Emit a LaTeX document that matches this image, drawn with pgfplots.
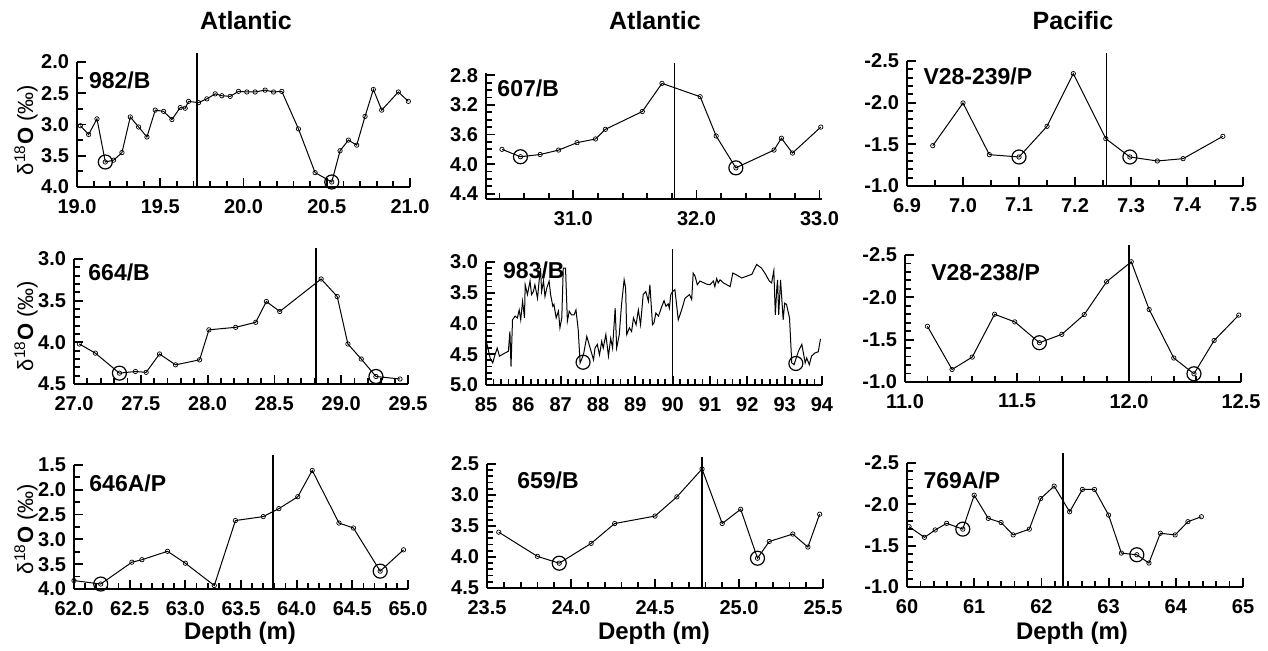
\documentclass[border=0pt]{standalone}
\usepackage{fontspec}
\setmainfont{Liberation Sans}
\usepackage{pgfplots}
\pgfplotsset{compat=1.18}

\pgfplotsset{
  panel/.style={
    scale only axis,
    y dir=reverse,
    axis x line*=bottom,
    axis y line*=left,
    axis line style={line width=0.8pt, -},
    tick align=inside,
    major tick length=4.5pt,
    minor tick length=2.8pt,
    tick style={line width=0.9pt, black},
    /pgf/number format/assume math mode=true,
    /pgf/number format/fixed,
    /pgf/number format/fixed zerofill,
    /pgf/number format/precision=1,
    every tick label/.append style={font=\bfseries\fontsize{10}{11}\selectfont},
    xticklabel style={yshift=-2.5pt},
    yticklabel style={xshift=-0.5pt},
    clip=false,
  },
  ser/.style={black, line width=0.5pt, mark=o, mark size=1.1pt, mark options={line width=0.35pt}},
  hl/.style={black, only marks, mark=o, mark size=3.5pt, mark options={line width=0.6pt}},
}
\tikzset{
  vl/.style={line width=0.8pt},
  tag/.style={anchor=west, inner sep=0pt, font=\bfseries\fontsize{11.5}{13}\selectfont},
}

\begin{document}
\begin{tikzpicture}
\useasboundingbox (0,0) rectangle (634pt,325.5pt);

% ---------- row 1 ----------
\begin{axis}[panel, at={(38.5pt,232pt)}, anchor=south west, width=166.5pt, height=62.5pt,
  xmin=19, xmax=21, ymin=2, ymax=4,
  xtick={19,19.5,...,21}, minor x tick num=4,
  ytick={2,2.5,...,4}, minor y tick num=1]
\addplot[ser] coordinates {
(19.02,3.02) (19.07,3.16) (19.12,2.91) (19.17,3.60) (19.22,3.57) (19.27,3.45)
(19.32,2.88) (19.37,3.04) (19.42,3.20) (19.47,2.77) (19.52,2.79) (19.57,2.92)
(19.62,2.73) (19.65,2.74) (19.67,2.63) (19.73,2.65) (19.78,2.59) (19.83,2.51)
(19.87,2.54) (19.92,2.55) (19.97,2.47) (20.02,2.48) (20.07,2.48) (20.13,2.45)
(20.18,2.48) (20.23,2.47) (20.33,3.07) (20.43,3.77) (20.53,3.92) (20.58,3.42)
(20.63,3.25) (20.68,3.33) (20.73,2.87) (20.78,2.44) (20.83,2.77) (20.93,2.48)
(20.99,2.63)};
\addplot[hl] coordinates {(19.17,3.60) (20.53,3.92)};
\draw[vl] (axis cs:19.72,4.0) -- (axis cs:19.72,1.85);
\node[tag] at (rel axis cs:0.035,0.855) {982/B};
\end{axis}

\begin{axis}[panel, at={(243pt,226pt)}, anchor=south west, width=168pt, height=63pt,
  xmin=30.29, xmax=33.02, ymin=2.77, ymax=4.47,
  xtick={31,32,33}, minor xtick={30.4,30.6,...,33.0},
  ytick={2.8,3.2,3.6,4.0,4.4}, minor ytick={2.8,2.9,...,4.45}]
\addplot[ser] coordinates {
(30.42,3.80) (30.57,3.90) (30.73,3.87) (30.88,3.81) (31.03,3.71) (31.18,3.66)
(31.26,3.53) (31.56,3.29) (31.72,2.91) (32.03,3.09) (32.16,3.62) (32.32,4.05)
(32.63,3.81) (32.69,3.65) (32.78,3.85) (33.01,3.50)};
\addplot[hl] coordinates {(30.57,3.90) (32.32,4.05)};
\draw[vl] (axis cs:31.82,4.47) -- (axis cs:31.82,2.63);
\node[tag] at (rel axis cs:0.033,0.88) {607/B};
\end{axis}

\begin{axis}[panel, at={(453.5pt,232.5pt)}, anchor=south west, width=168pt, height=62.5pt,
  xmin=6.9, xmax=7.5, ymin=-2.5, ymax=-1.0,
  xtick={6.9,7.0,...,7.5}, minor x tick num=1,
  ytick={-2.5,-2.0,-1.5,-1.0}, minor y tick num=4]
\addplot[ser] coordinates {
(6.946,-1.484) (7.0,-1.996) (7.047,-1.376) (7.10,-1.348) (7.15,-1.716)
(7.197,-2.348) (7.255,-1.568) (7.298,-1.348) (7.347,-1.30) (7.393,-1.328)
(7.464,-1.596)};
\addplot[hl] coordinates {(7.10,-1.348) (7.298,-1.348)};
\draw[vl] (axis cs:7.256,-1.0) -- (axis cs:7.256,-2.6);
\node[tag] at (rel axis cs:0.048,0.88) {V28-239/P};
\end{axis}

% ---------- row 2 ----------
\begin{axis}[panel, at={(37pt,133.5pt)}, anchor=south west, width=167pt, height=62.5pt,
  xmin=27, xmax=29.5, ymin=3.0, ymax=4.5,
  xtick={27,27.5,...,29.5}, minor x tick num=4,
  ytick={3,3.5,4,4.5}, minor y tick num=4]
\addplot[ser] coordinates {
(27.04,4.02) (27.16,4.13) (27.34,4.37) (27.46,4.35) (27.54,4.36) (27.64,4.14)
(27.76,4.27) (27.94,4.21) (28.01,3.85) (28.21,3.82) (28.36,3.76) (28.44,3.51)
(28.54,3.63) (28.85,3.24) (28.97,3.45) (29.05,4.02) (29.15,4.20) (29.26,4.41)
(29.44,4.44)};
\addplot[hl] coordinates {(27.34,4.37) (29.26,4.41)};
\draw[vl] (axis cs:28.81,4.5) -- (axis cs:28.81,2.87);
\node[tag] at (rel axis cs:0.042,0.896) {664/B};
\end{axis}

\begin{axis}[panel, at={(243pt,133pt)}, anchor=south west, width=168pt, height=61.5pt,
  xmin=85, xmax=94, ymin=3.0, ymax=5.0,
  xtick={85,86,...,94}, minor x tick num=4,
  xticklabel style={/pgf/number format/precision=0},
  ytick={3,3.5,...,5}, minor y tick num=4]
\addplot[black, line width=0.5pt] coordinates {
(85.02,4.32) (85.11,4.56) (85.18,4.64) (85.24,4.51) (85.30,4.40) (85.36,4.53)
(85.42,4.51) (85.60,4.45) (85.64,4.13) (85.67,4.70) (85.71,3.94) (85.78,3.88)
(85.84,3.91) (85.89,3.78) (85.93,3.94) (85.98,3.64) (86.03,3.91) (86.05,3.37)
(86.11,3.53) (86.18,3.31) (86.22,3.53) (86.27,3.48) (86.31,3.37) (86.38,3.59)
(86.43,3.26) (86.46,3.10) (86.49,3.48) (86.54,3.31) (86.58,3.56) (86.63,3.42)
(86.69,3.31) (86.73,3.53) (86.79,3.72) (86.82,3.69) (86.88,3.91) (86.94,3.80)
(86.98,4.07) (87.03,3.91) (87.07,3.10) (87.13,3.10) (87.18,3.96) (87.23,3.80)
(87.29,3.86) (87.36,3.86) (87.41,3.78) (87.47,4.10) (87.52,4.64) (87.61,4.51)
(87.70,4.21) (87.79,4.40) (87.88,4.59) (87.92,4.40) (87.98,4.34) (88.04,4.51)
(88.10,4.29) (88.14,4.40) (88.21,4.18) (88.28,4.53) (88.34,4.24) (88.39,4.40)
(88.46,3.75) (88.50,4.40) (88.57,4.18) (88.63,3.69) (88.70,3.29) (88.74,3.42)
(88.77,4.18) (88.84,4.07) (88.90,4.13) (88.95,3.91) (89.02,4.02) (89.08,3.78)
(89.14,4.02) (89.21,3.53) (89.28,3.48) (89.35,3.64) (89.39,3.37) (89.46,4.02)
(89.50,3.99) (89.55,3.83) (89.62,3.88) (89.71,3.72) (89.77,3.63) (89.82,3.72)
(89.88,3.68) (89.91,3.75) (89.95,3.53) (90.00,3.48) (90.06,3.45) (90.15,3.94)
(90.24,3.78) (90.33,3.59) (90.45,3.53) (90.51,3.61) (90.55,3.18) (90.60,3.23)
(90.66,3.37) (90.73,3.31) (90.91,3.36) (91.00,3.37) (91.09,3.31) (91.13,3.40)
(91.18,3.27) (91.22,3.34) (91.27,3.29) (91.36,3.34) (91.54,3.40) (91.61,3.18)
(91.71,3.21) (91.85,3.26) (92.12,3.20) (92.25,3.04) (92.38,3.10) (92.47,3.18)
(92.59,3.31) (92.65,3.34) (92.71,3.14) (92.75,3.86) (92.79,3.42) (92.81,3.29)
(92.84,3.86) (92.89,3.29) (92.96,3.94) (93.00,3.67) (93.05,3.69) (93.13,3.91)
(93.19,4.64) (93.25,4.67) (93.37,4.45) (93.46,4.34) (93.55,4.64) (93.59,4.56)
(93.66,4.67) (93.72,4.53) (93.81,4.48) (93.90,4.46) (93.96,4.25)};
\addplot[hl] coordinates {(87.60,4.63) (93.30,4.65)};
\draw[vl] (axis cs:90,5.0) -- (axis cs:90,2.79);
\node[tag] at (rel axis cs:0.05,0.935) {983/B};
\end{axis}

\begin{axis}[panel, at={(452.5pt,134.5pt)}, anchor=south west, width=168pt, height=63.5pt,
  xmin=11, xmax=12.5, ymin=-2.5, ymax=-1.0,
  xtick={11,11.5,12,12.5}, minor x tick num=4,
  ytick={-2.5,-2.0,-1.5,-1.0}, minor y tick num=4]
\addplot[ser] coordinates {
(11.10,-1.658) (11.21,-1.148) (11.30,-1.294) (11.40,-1.80) (11.49,-1.71)
(11.60,-1.464) (11.70,-1.563) (11.80,-1.796) (11.90,-2.184) (12.01,-2.42)
(12.09,-1.856) (12.20,-1.283) (12.29,-1.097) (12.38,-1.49) (12.49,-1.79)};
\addplot[hl] coordinates {(11.60,-1.464) (12.29,-1.097)};
\draw[vl] (axis cs:12.0,-1.0) -- (axis cs:12.0,-2.62);
\node[tag] at (rel axis cs:0.077,0.866) {V28-238/P};
\end{axis}

% ---------- row 3 ----------
\begin{axis}[panel, at={(37pt,31pt)}, anchor=south west, width=167pt, height=62pt,
  xmin=62, xmax=65, ymin=1.5, ymax=4.0,
  xtick={62,62.5,...,65}, minor x tick num=4,
  ytick={1.5,2,...,4}, minor y tick num=1]
\addplot[ser] coordinates {
(62.0,3.83) (62.24,3.90) (62.52,3.46) (62.61,3.41) (62.84,3.24) (63.00,3.48)
(63.26,3.93) (63.45,2.62) (63.70,2.54) (63.84,2.38) (64.01,2.14) (64.14,1.61)
(64.38,2.67) (64.51,2.77) (64.75,3.64) (64.96,3.21)};
\addplot[hl] coordinates {(62.24,3.90) (64.75,3.64)};
\draw[vl] (axis cs:63.79,4.0) -- (axis cs:63.79,1.29);
\node[tag] at (rel axis cs:0.045,0.855) {646A/P};
\end{axis}

\begin{axis}[panel, at={(243.5pt,31.5pt)}, anchor=south west, width=168pt, height=62pt,
  xmin=23.5, xmax=25.5, ymin=2.5, ymax=4.5,
  xtick={23.5,24,...,25.5}, minor x tick num=4,
  ytick={2.5,3,...,4.5}, minor y tick num=4]
\addplot[ser] coordinates {
(23.57,3.60) (23.80,3.99) (23.93,4.10) (24.12,3.78) (24.26,3.46) (24.50,3.34)
(24.63,3.03) (24.78,2.58) (24.90,3.46) (25.01,3.23) (25.11,4.02) (25.18,3.75)
(25.32,3.63) (25.41,3.84) (25.48,3.31)};
\addplot[hl] coordinates {(23.93,4.10) (25.11,4.02)};
\draw[vl] (axis cs:24.78,4.5) -- (axis cs:24.78,2.38);
\node[tag] at (rel axis cs:0.089,0.87) {659/B};
\end{axis}

\begin{axis}[panel, at={(453.5pt,32pt)}, anchor=south west, width=168pt, height=62pt,
  xmin=60, xmax=65, ymin=-2.5, ymax=-1.0,
  xtick={60,...,65}, minor x tick num=4,
  xticklabel style={/pgf/number format/precision=0},
  ytick={-2.5,-2.0,-1.5,-1.0}, minor y tick num=4]
\addplot[ser] coordinates {
(60.03,-1.73) (60.26,-1.60) (60.42,-1.69) (60.59,-1.77) (60.83,-1.70)
(61.00,-2.11) (61.21,-1.83) (61.40,-1.78) (61.58,-1.63) (61.82,-1.70)
(61.99,-2.07) (62.19,-2.22) (62.42,-1.91) (62.61,-2.18) (62.79,-2.18)
(63.00,-1.87) (63.19,-1.41) (63.42,-1.39) (63.60,-1.29) (63.77,-1.65)
(63.99,-1.63) (64.18,-1.79) (64.38,-1.85)};
\addplot[hl] coordinates {(60.83,-1.70) (63.42,-1.39)};
\draw[vl] (axis cs:62.32,-1.0) -- (axis cs:62.32,-2.62);
\node[tag] at (rel axis cs:0.048,0.863) {769A/P};
\end{axis}

% ---------- titles and labels ----------
\begin{scope}[every node/.style={font=\bfseries\fontsize{12.5}{14}\selectfont}]
\node at (123pt,315pt) {Atlantic};
\node at (327.5pt,315pt) {Atlantic};
\node at (536.5pt,315pt) {Pacific};
\end{scope}
\begin{scope}[every node/.style={font=\bfseries\fontsize{12}{14}\selectfont}]
\node at (120pt,9pt) {Depth (m)};
\node at (327pt,9pt) {Depth (m)};
\node at (536pt,9pt) {Depth (m)};
\end{scope}
\begin{scope}[every node/.style={rotate=90, font=\fontsize{11}{13}\selectfont}]
\node at (13pt,260.5pt) {δ\textsuperscript{18}\textbf{O} (‰)};
\node at (13pt,162.5pt) {δ\textsuperscript{18}\textbf{O} (‰)};
\node at (13pt,61pt) {δ\textsuperscript{18}\textbf{O} (‰)};
\end{scope}
\end{tikzpicture}
\end{document}
